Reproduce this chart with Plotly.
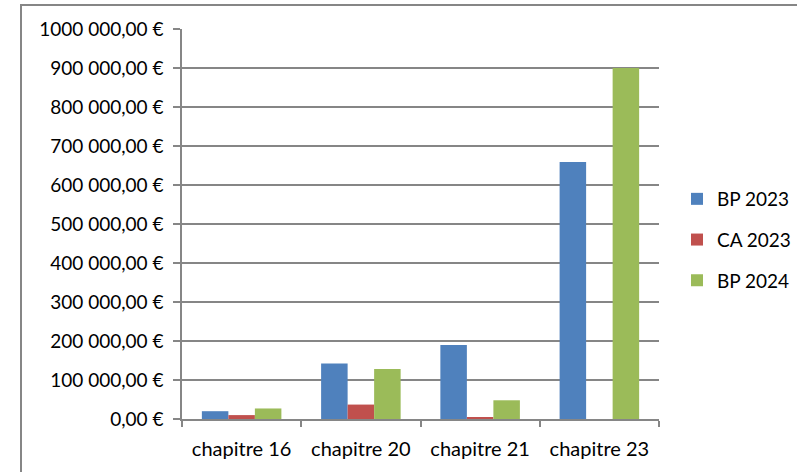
import plotly.graph_objects as go

categories = ["chapitre 16", "chapitre 20", "chapitre 21", "chapitre 23"]
bp_2023 = [20000, 142000, 190000, 659000]
ca_2023 = [10000, 37000, 3000, 0]
bp_2024 = [27000, 128000, 48000, 900000]
series_names = ["BP 2023", "CA 2023", "BP 2024"]
colors = ["#4F81BD", "#C0504D", "#9BBB59"]

tick_vals = [i * 100000 for i in range(11)]
tick_text = ["0,00 €", "100 000,00 €", "200 000,00 €", "300 000,00 €", "400 000,00 €",
             "500 000,00 €", "600 000,00 €", "700 000,00 €", "800 000,00 €",
             "900 000,00 €", "1000 000,00 €"]

FONT = "Lato"
fig = go.Figure()
for name, vals, col in zip(series_names, [bp_2023, ca_2023, bp_2024], colors):
    fig.add_trace(go.Bar(x=categories, y=vals, name=name, marker_color=col,
                         marker_line_width=0, legendgroup=name))

W, H = 797, 472
L, R, T, B = 182, 138, 29, 53
pw = W - L - R
ph = H - T - B

def px2x(px):
    return (px - L) / pw

def py2y(py):
    return (H - B - py) / ph

fig.update_layout(
    width=W, height=H,
    margin=dict(l=L, r=R, t=T, b=B, autoexpand=False),
    paper_bgcolor="white", plot_bgcolor="white",
    barmode="group", bargap=0.333, bargroupgap=0,
    font=dict(family=FONT, size=18, color="#000000"),
    legend=dict(x=px2x(677), y=py2y(240), xanchor="left", yanchor="middle",
                font=dict(family=FONT, size=19), tracegroupgap=13,
                bgcolor="rgba(0,0,0,0)"),
    showlegend=True,
    shapes=[dict(type="rect", xref="paper", yref="paper",
                 x0=px2x(21), x1=px2x(900), y0=py2y(540), y1=py2y(5),
                 line=dict(color="#868686", width=2), fillcolor="rgba(0,0,0,0)",
                 layer="below")],
)
fig.update_xaxes(showline=True, linecolor="#868686", linewidth=1.5,
                 ticks="outside", tickson="boundaries", ticklen=6, tickcolor="#868686",
                 tickwidth=1.5, showgrid=False, ticklabelstandoff=11,
                 tickfont=dict(family=FONT, size=20, color="#000000"))
fig.update_yaxes(range=[0, 1000000], tickvals=tick_vals, ticktext=tick_text,
                 showline=True, linecolor="#868686", linewidth=1.5,
                 ticks="outside", ticklen=7, tickcolor="#868686", tickwidth=1.5,
                 showgrid=True, gridcolor="#868686", gridwidth=1.5,
                 zeroline=False, ticklabelstandoff=6,
                 tickfont=dict(family=FONT, size=19, color="#000000"))

fig.write_html("out.html")
